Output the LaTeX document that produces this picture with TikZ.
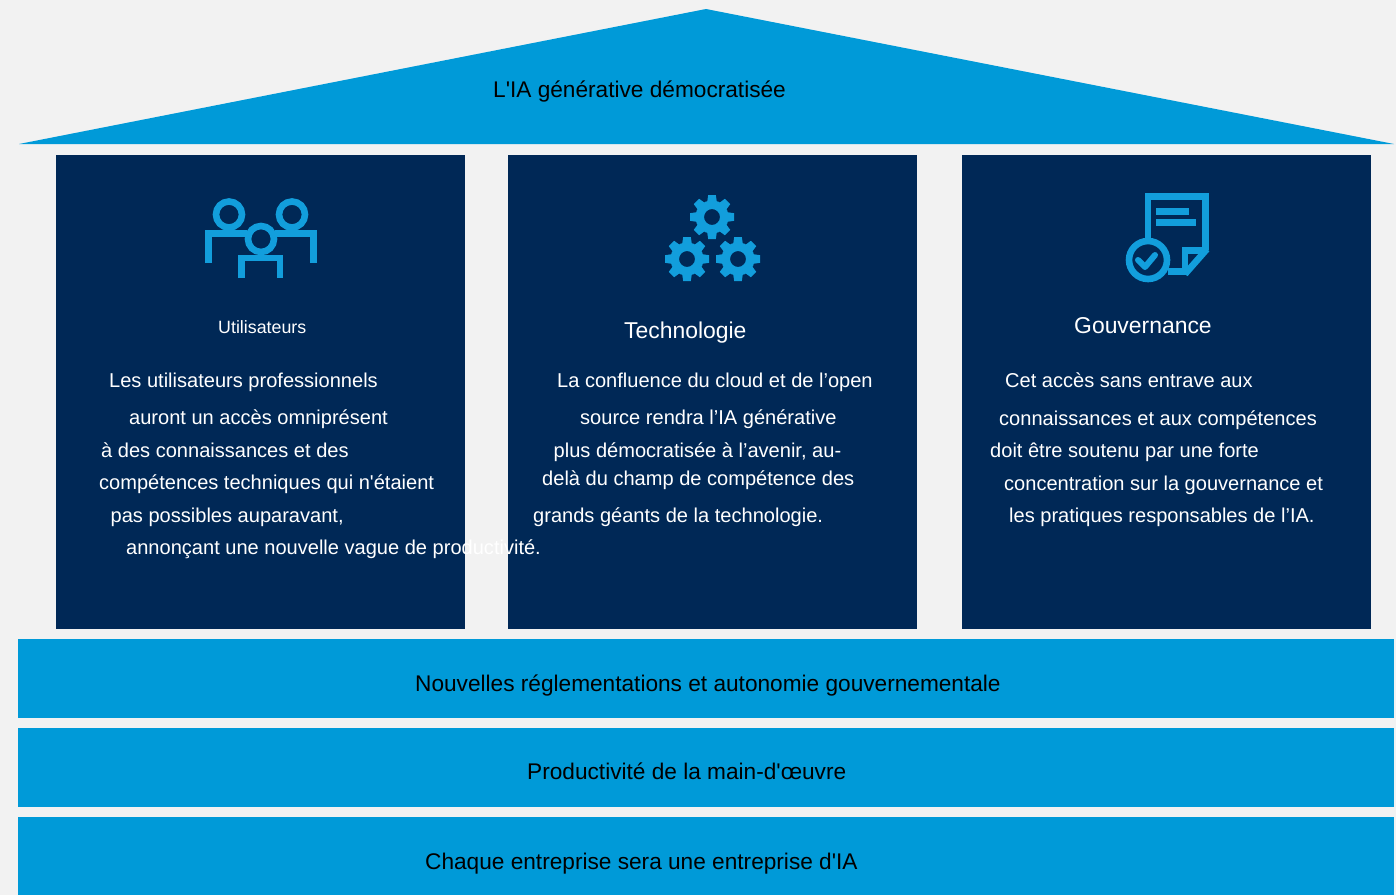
\documentclass[tikz,border=0pt]{standalone}
\usepackage{fontspec}
\setmainfont{Liberation Sans}[Ligatures=TeXOff]
\definecolor{bgc}{HTML}{F2F2F2}
\definecolor{bluec}{HTML}{009AD8}
\definecolor{navyc}{HTML}{002856}
\definecolor{iconc}{HTML}{129EDC}
\tikzset{
  x=1pt,y=-1pt,
  band/.style={fill=bluec,draw=none},
  card/.style={fill=navyc,draw=none},
  dark/.style={anchor=base west,inner sep=0pt,text=black,font=\fontsize{22.65}{26}\selectfont},
  body/.style={anchor=base west,inner sep=0pt,text=white,font=\fontsize{20.05}{24}\selectfont},
  head/.style={anchor=base west,inner sep=0pt,text=white,font=\fontsize{22.9}{26}\selectfont},
  small/.style={anchor=base west,inner sep=0pt,text=white,font=\fontsize{17.8}{20}\selectfont},
  ico/.style={draw=iconc,line width=6.6pt,fill=none},
}
\newcommand{\gearicon}[2]{%
  \begin{scope}[shift={(#1,#2)}]
    \foreach \a in {0,45,...,315}{
      \fill[iconc,rotate=\a] (-5,-14) -- (-3.8,-22) -- (3.8,-22) -- (5,-14) -- cycle;
    }
    \draw[iconc,line width=8.5pt] (0,0) circle (12.3);
  \end{scope}}
\begin{document}
\begin{tikzpicture}
\useasboundingbox (0,0) rectangle (1396,895);
\fill[bgc] (0,0) rectangle (1396,895);
% roof and bands
\fill[band] (19,144) -- (706,9) -- (1394,144) -- cycle;
\fill[band] (18,638.5) rectangle (1394,718);
\fill[band] (18,727.5) rectangle (1394,807);
\fill[band] (18,817) rectangle (1394,895);
% cards
\fill[card] (56.3,155.3) rectangle (464.5,629);
\fill[card] (508.3,155.3) rectangle (916.5,629);
\fill[card] (962.3,155.3) rectangle (1370.5,629);
% texts on blue
\node[dark] (roof) at (493,97) {L'IA générative démocratisée};
\node[dark] (b1) at (415,691) {Nouvelles réglementations et autonomie gouvernementale};
\node[dark] (b2) at (527,779) {Productivité de la main-d'œuvre};
\node[dark] (b3) at (425,869) {Chaque entreprise sera une entreprise d'IA};
% people icon
\draw[ico] (229,214.5) circle (13);
\draw[ico] (292,214.5) circle (13);
\draw[ico] (261,239) circle (13);
\draw[ico] (208.5,263) -- (208.5,233.5) -- (247,233.5);
\draw[ico] (275,233.5) -- (313.5,233.5) -- (313.5,263);
\draw[ico] (241.5,278) -- (241.5,258) -- (280,258) -- (280,278);
% gears icon
\gearicon{712}{217}
\gearicon{687}{259}
\gearicon{738}{259}
% document icon
\draw[ico] (1148,245) -- (1148,196.5) -- (1205.5,196.5) -- (1205.5,250);
\draw[ico] (1206,250.5) -- (1185,250.5) -- (1185,271);
\draw[ico] (1207,249) -- (1185,274) ;
\draw[ico] (1168,271.5) -- (1188,271.5);
\fill[iconc] (1156,208) rectangle (1189,215);
\fill[iconc] (1156,219) rectangle (1196,226);
\draw[ico,fill=navyc] (1148,260) circle (19);
\draw[iconc,line width=6pt,line cap=round,line join=round] (1138,260) -- (1145,267) -- (1155,255);
% card 1
\node[small] (h1) at (218,333) {Utilisateurs};
\node[body] (t11) at (109,387) {Les utilisateurs professionnels};
\node[body] (t12) at (129,424) {auront un accès omniprésent};
\node[body] (t13) at (101,457) {à des connaissances et des};
\node[body] (t14) at (99,489) {compétences techniques qui n'étaient};
\node[body] (t15) at (110.5,522) {pas possibles auparavant,};
\node[body] (t16) at (126,554) {annonçant une nouvelle vague de productivité.};
% card 2
\node[head] (h2) at (624,338) {Technologie};
\node[body] (t21) at (557,387) {La confluence du cloud et de l’open};
\node[body] (t22) at (580,424) {source rendra l’IA générative};
\node[body] (t23) at (553.5,457) {plus démocratisée à l’avenir, au-};
\node[body] (t24) at (542,485) {delà du champ de compétence des};
\node[body] (t25) at (533,522) {grands géants de la technologie.};
% card 3
\node[head] (h3) at (1074,333.5) {Gouvernance};
\node[body] (t31) at (1005,387) {Cet accès sans entrave aux};
\node[body] (t32) at (999,425) {connaissances et aux compétences};
\node[body] (t33) at (990,457) {doit être soutenu par une forte};
\node[body] (t34) at (1004,490) {concentration sur la gouvernance et};
\node[body] (t35) at (1009,522) {les pratiques responsables de l’IA.};
\end{tikzpicture}
\end{document}
